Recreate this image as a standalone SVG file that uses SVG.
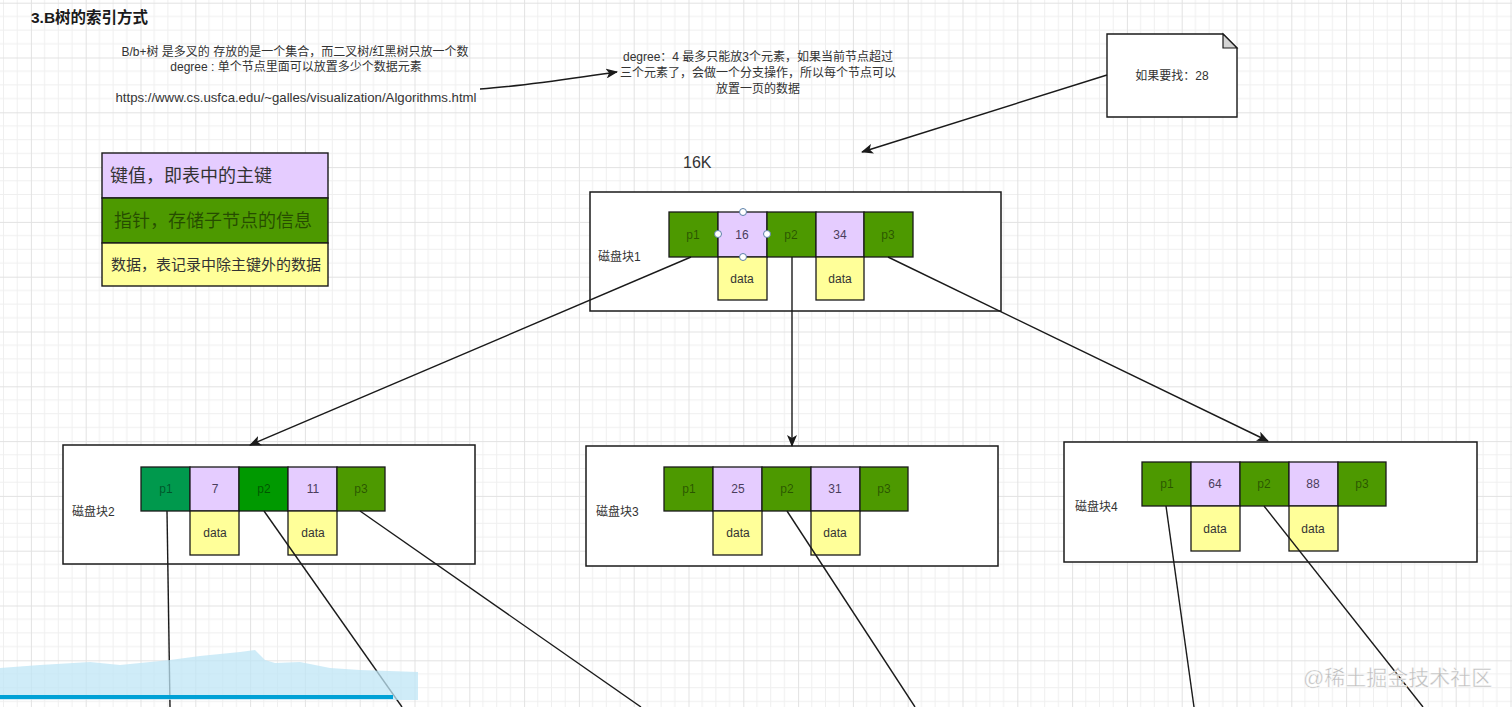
<svg xmlns="http://www.w3.org/2000/svg" width="1512" height="707" viewBox="0 0 1512 707">
<style>
  text { font-family: "Liberation Sans", "Noto Sans CJK SC", sans-serif; }
  .box { fill: #ffffff; stroke: #1a1a1a; stroke-width: 1.5; }
  .pg { stroke: #1a1a1a; stroke-width: 1.3; }
  .g1 { fill: #4d9900; }
  .g2 { fill: #009900; }
  .g3 { fill: #00994d; }
  .key { fill: #e5ccff; stroke: #1a1a1a; stroke-width: 1.3; }
  .dat { fill: #ffff99; stroke: #1a1a1a; stroke-width: 1.3; }
  .pt { font-size: 12px; fill: rgba(0,0,0,0.45); text-anchor: middle; }
  .kt { font-size: 12px; fill: #4a3d5c; text-anchor: middle; }
  .dt { font-size: 12px; fill: #333333; text-anchor: middle; }
  .lbl { font-size: 12px; fill: #333333; }
  .note { font-size: 12px; fill: #333333; text-anchor: middle; }
  .conn { fill: none; stroke: #1a1a1a; stroke-width: 1.4; }
  .h { fill: #ffffff; stroke: #5b7fa8; stroke-width: 1; }
</style>
<defs>
  <pattern id="grid" patternUnits="userSpaceOnUse" x="30.9" y="2.7" width="54.8" height="54.8">
    <path d="M13.7,0V54.8M27.4,0V54.8M41.1,0V54.8M0,13.7H54.8M0,27.4H54.8M0,41.1H54.8" stroke="#efefef" stroke-width="1" fill="none"/>
    <path d="M0.5,0V54.8M0,0.5H54.8" stroke="#e2e2e2" stroke-width="1" fill="none"/>
  </pattern>
  <marker id="arr" viewBox="0 0 12 10" refX="11" refY="5" markerWidth="12" markerHeight="10" markerUnits="userSpaceOnUse" orient="auto">
    <path d="M0,0 L12,5 L0,10 L3,5 Z" fill="#1a1a1a"/>
  </marker>
</defs>
<rect x="0" y="0" width="1512" height="707" fill="#ffffff"/>
<rect x="0" y="0" width="1512" height="707" fill="url(#grid)"/>

<g id="title">
  <text x="31" y="23" style="font-size:15.5px;font-weight:bold;fill:#1a1a1a">3.B树的索引方式</text>
</g>

<g id="desc">
  <text x="295" y="56" class="note">B/b+树 是多叉的  存放的是一个集合，而二叉树/红黑树只放一个数</text>
  <text x="296" y="71" class="note">degree : 单个节点里面可以放置多少个数据元素</text>
  <text x="296" y="102" class="note" style="font-size:13.2px">https://www.cs.usfca.edu/~galles/visualization/Algorithms.html</text>
</g>

<g id="degree-note">
  <text x="758" y="61" class="note">degree：4 最多只能放3个元素，如果当前节点超过</text>
  <text x="758" y="77" class="note">三个元素了，会做一个分支操作，所以每个节点可以</text>
  <text x="758" y="93" class="note">放置一页的数据</text>
</g>

<g id="search-note">
  <path d="M1107,34 H1223 L1237,48 V117 H1107 Z" fill="#ffffff" stroke="#1a1a1a" stroke-width="1.4"/>
  <path d="M1223,34 V48 H1237 Z" fill="#d4d4d4" stroke="#1a1a1a" stroke-width="1.2"/>
  <text x="1172" y="80" class="note">如果要找：28</text>
</g>

<g id="size-label">
  <text x="683" y="168" style="font-size:16px;fill:#333333">16K</text>
</g>

<g id="legend">
  <rect x="102" y="153" width="226" height="45" fill="#e5ccff" stroke="#1a1a1a" stroke-width="1.4"/>
  <text x="110" y="182" style="font-size:18px;fill:#333333">键值，即表中的主键</text>
  <rect x="102" y="198" width="226" height="45" fill="#4d9900" stroke="#1a1a1a" stroke-width="1.4"/>
  <text x="114" y="227" style="font-size:18px;fill:rgba(0,0,0,0.5)">指针，存储子节点的信息</text>
  <rect x="102" y="243" width="226" height="43" fill="#ffff99" stroke="#1a1a1a" stroke-width="1.4"/>
  <text x="111" y="270" style="font-size:15px;fill:#333333">数据，表记录中除主键外的数据</text>
</g>

<g id="block1">
  <rect x="590" y="192" width="411" height="119" class="box"/>
  <text x="598" y="261" class="lbl">磁盘块1</text>
  <rect x="669" y="212" width="49" height="45" class="pg g1"/>
  <rect x="718" y="212" width="49" height="45" class="key"/>
  <rect x="767" y="212" width="49" height="45" class="pg g1"/>
  <rect x="816" y="212" width="48" height="45" class="key"/>
  <rect x="864" y="212" width="49" height="45" class="pg g1"/>
  <rect x="718" y="257" width="49" height="43" class="dat"/>
  <rect x="816" y="257" width="48" height="43" class="dat"/>
  <text x="693" y="239" class="pt">p1</text>
  <text x="742" y="239" class="kt">16</text>
  <text x="791" y="239" class="pt">p2</text>
  <text x="840" y="239" class="kt">34</text>
  <text x="888" y="239" class="pt">p3</text>
  <text x="742" y="283" class="dt">data</text>
  <text x="840" y="283" class="dt">data</text>
  <circle cx="718" cy="234" r="3.5" class="h"/>
  <circle cx="767" cy="234" r="3.5" class="h"/>
  <circle cx="743" cy="212" r="3.5" class="h"/>
  <circle cx="743" cy="257" r="3.5" class="h"/>
</g>

<g id="block2">
  <rect x="63" y="445" width="412" height="119" class="box"/>
  <text x="72" y="516" class="lbl">磁盘块2</text>
  <rect x="141" y="467" width="49" height="44" class="pg g3"/>
  <rect x="190" y="467" width="49" height="44" class="key"/>
  <rect x="239" y="467" width="49" height="44" class="pg g2"/>
  <rect x="288" y="467" width="49" height="44" class="key"/>
  <rect x="337" y="467" width="48" height="44" class="pg g1"/>
  <rect x="190" y="511" width="49" height="44" class="dat"/>
  <rect x="288" y="511" width="49" height="44" class="dat"/>
  <text x="166" y="493" class="pt">p1</text>
  <text x="215" y="493" class="kt">7</text>
  <text x="264" y="493" class="pt">p2</text>
  <text x="313" y="493" class="kt">11</text>
  <text x="361" y="493" class="pt">p3</text>
  <text x="215" y="537" class="dt">data</text>
  <text x="313" y="537" class="dt">data</text>
</g>

<g id="block3">
  <rect x="586" y="446" width="412" height="120" class="box"/>
  <text x="596" y="516" class="lbl">磁盘块3</text>
  <rect x="664" y="467" width="49" height="44" class="pg g1"/>
  <rect x="713" y="467" width="49" height="44" class="key"/>
  <rect x="762" y="467" width="49" height="44" class="pg g1"/>
  <rect x="811" y="467" width="49" height="44" class="key"/>
  <rect x="860" y="467" width="48" height="44" class="pg g1"/>
  <rect x="713" y="511" width="49" height="44" class="dat"/>
  <rect x="811" y="511" width="49" height="44" class="dat"/>
  <text x="689" y="493" class="pt">p1</text>
  <text x="738" y="493" class="kt">25</text>
  <text x="787" y="493" class="pt">p2</text>
  <text x="835" y="493" class="kt">31</text>
  <text x="884" y="493" class="pt">p3</text>
  <text x="738" y="537" class="dt">data</text>
  <text x="835" y="537" class="dt">data</text>
</g>

<g id="block4">
  <rect x="1064" y="442" width="413" height="120" class="box"/>
  <text x="1075" y="511" class="lbl">磁盘块4</text>
  <rect x="1142" y="462" width="49" height="44" class="pg g1"/>
  <rect x="1191" y="462" width="49" height="44" class="key"/>
  <rect x="1240" y="462" width="49" height="44" class="pg g1"/>
  <rect x="1289" y="462" width="49" height="44" class="key"/>
  <rect x="1338" y="462" width="48" height="44" class="pg g1"/>
  <rect x="1191" y="506" width="49" height="45" class="dat"/>
  <rect x="1289" y="506" width="49" height="45" class="dat"/>
  <text x="1167" y="488" class="pt">p1</text>
  <text x="1215" y="488" class="kt">64</text>
  <text x="1264" y="488" class="pt">p2</text>
  <text x="1313" y="488" class="kt">88</text>
  <text x="1362" y="488" class="pt">p3</text>
  <text x="1215" y="533" class="dt">data</text>
  <text x="1313" y="533" class="dt">data</text>
</g>

<g id="connectors">
  <path d="M480,89 C525,86 560,80 617,72" class="conn" marker-end="url(#arr)"/>
  <path d="M1107,75 L862,152" class="conn" marker-end="url(#arr)"/>
  <path d="M691,257 L250,445" class="conn" marker-end="url(#arr)"/>
  <path d="M792,257 L792,446" class="conn" marker-end="url(#arr)"/>
  <path d="M888,257 L1268,441" class="conn" marker-end="url(#arr)"/>
  <path d="M167,511 L170,707" class="conn"/>
  <path d="M264,511 L402,707" class="conn"/>
  <path d="M360,511 L641,707" class="conn"/>
  <path d="M787,511 L915,707" class="conn"/>
  <path d="M1166,506 L1194,707" class="conn"/>
  <path d="M1264,506 L1423,707" class="conn"/>
</g>

<g id="overlay">
  <path d="M0,668 L40,665 L90,662 L120,665 L170,660 L200,656 L240,652 L255,650 L265,660 L275,663 L300,662 L330,668 L360,670 L418,672 L418,700 L0,700 Z" fill="#bfe6f5" opacity="0.75"/>
  <rect x="0" y="695" width="393" height="4" fill="#00a1d6"/>
  <text x="1303" y="685" style="font-size:21px;fill:#bdbdbd;stroke:#ffffff;stroke-width:0.4">@稀土掘金技术社区</text>
</g>
</svg>
